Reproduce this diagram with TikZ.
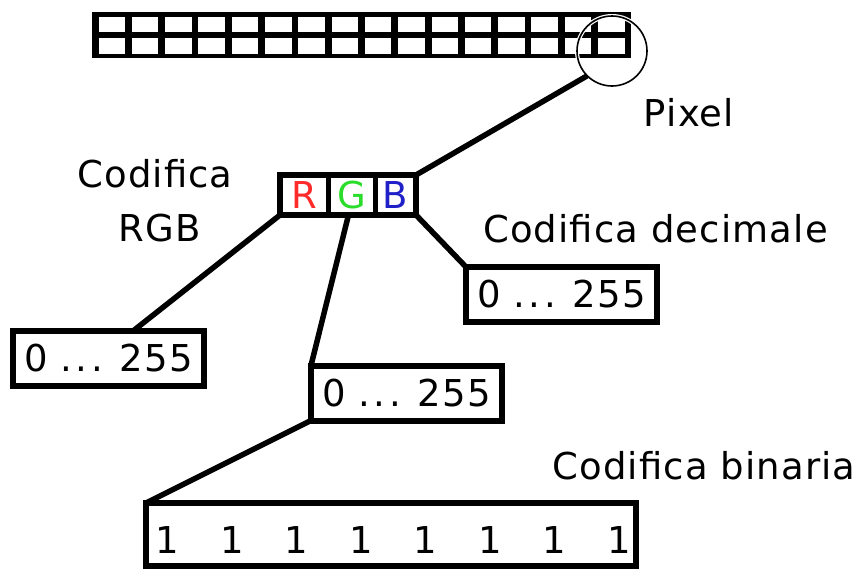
\documentclass[tikz,border=0pt]{standalone}
\usepackage{fontspec}
\setmainfont{DejaVu Sans}[LetterSpace=3]
\definecolor{rgbR}{HTML}{FF2A2A}
\definecolor{rgbG}{HTML}{2ADD2A}
\definecolor{rgbB}{HTML}{2020C8}
\newcommand\dfont{\fontsize{37}{44}\selectfont}
\newcommand\dts{.\hspace{3.5pt}.\hspace{3.5pt}.}
\begin{document}
\begin{tikzpicture}[x=1pt,y=-1pt,
  box/.style={draw, line width=6pt, rectangle, minimum width=191pt, minimum height=55pt, inner sep=0pt, outer sep=0pt, font=\dfont},
  cell/.style={draw, line width=5pt, rectangle, minimum height=40pt, inner sep=0pt, outer sep=0pt, font=\dfont},
  conn/.style={line width=5.5pt},
  lbl/.style={anchor=base, font=\dfont, inner sep=0pt}]
\useasboundingbox (0,0) rectangle (859,570);
% pixel strip
\fill (92,12) rectangle (631,58);
\foreach \i in {0,...,15}
  \foreach \j in {0,1}
    \fill[white] (98.5+\i*33.3,16.5+\j*21.5) rectangle ++(26.5,15.5);
% magnifier circle
\node[circle, minimum size=70pt, inner sep=0pt, outer sep=0pt, draw, line width=1.6pt,
      preaction={draw=white, line width=4pt}] (mag) at (612,51) {};
% RGB cells
\node[cell, minimum width=48pt] (R) at (304,195) {\textcolor{rgbR}{R}};
\node[cell, minimum width=47pt] (G) at (351.5,195) {\textcolor{rgbG}{G}};
\node[cell, minimum width=41pt] (B) at (395.5,195) {\textcolor{rgbB}{B}};
\draw[line width=6pt] (R.north west) rectangle (B.south east);
% value boxes
\node[box] (left) at (108.5,358.5) {0 \dts{} 255};
\node[box] (mid) at (406.5,393) {0 \dts{} 255};
\node[box] (right) at (561.5,294.5) {0 \dts{} 255};
\node[box, minimum width=490pt, minimum height=63pt] (bin) at (391,534.5) {};
\foreach \k in {0,...,7}
  \node[lbl] (one\k) at (167.5+64.5*\k,553) {1};
% connectors
\draw[conn] (mag.225) -- (B.north east);
\draw[conn] (R.south west) -- ([xshift=120pt]left.north west);
\draw[conn] ([xshift=-3pt]G.south) -- (mid.north west);
\draw[conn] (B.south east) -- (right.north west);
\draw[conn] (mid.south west) -- (bin.north west);
% labels
\node[lbl] (pix) at (689,126) {Pixel};
\node[lbl] (cod1) at (155,187) {Codifica};
\node[lbl] (cod2) at (159.5,241) {RGB};
\node[lbl] (dec) at (655.5,242) {Codifica decimale};
\node[lbl] (binl) at (704,479) {Codifica binaria};
\end{tikzpicture}
\end{document}
